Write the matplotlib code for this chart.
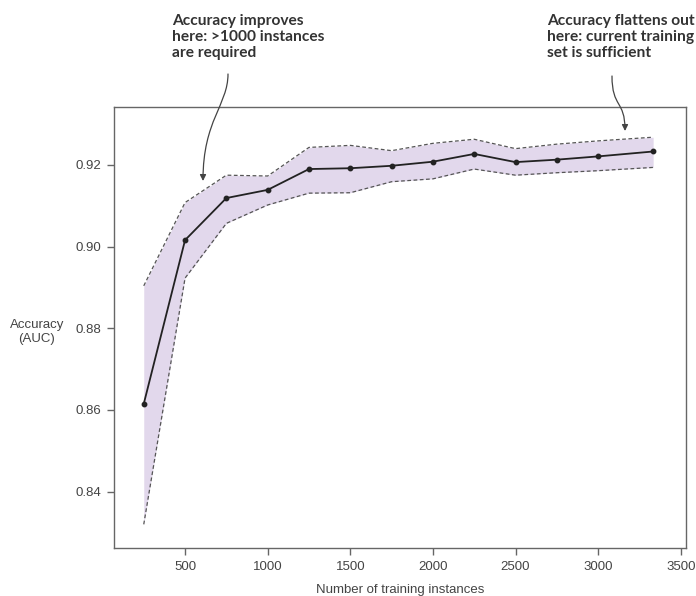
import numpy as np
import matplotlib
matplotlib.use('Agg')
import matplotlib.pyplot as plt
from matplotlib.patches import FancyArrowPatch
from matplotlib.path import Path

# Values
instances = [250, 500, 750, 1000, 1250, 1500, 1750, 2000, 2250, 2500, 2750, 3000, 3333]
auc_mean = [0.8615, 0.9016, 0.9119, 0.9139, 0.9190, 0.9192, 0.9198, 0.9208, 0.9227, 0.9207, 0.9213, 0.9221, 0.9233]
auc_upper = [0.8904, 0.9108, 0.9175, 0.9173, 0.9243, 0.9248, 0.9235, 0.9253, 0.9263, 0.9240, 0.9251, 0.9259, 0.9268]
auc_lower = [0.8320, 0.8923, 0.9057, 0.9102, 0.9131, 0.9132, 0.9159, 0.9166, 0.9190, 0.9175, 0.9181, 0.9186, 0.9194]

x_ticks = [500, 1000, 1500, 2000, 2500, 3000, 3500]
y_ticks = [0.84, 0.86, 0.88, 0.90, 0.92]

note_left = "Accuracy improves\nhere: >1000 instances\nare required"
note_right = "Accuracy flattens out\nhere: current training\nset is sufficient"

plt.rcParams['font.family'] = ['Liberation Sans', 'DejaVu Sans']

W, H = 696, 596
fig = plt.figure(figsize=(W / 100, H / 100), dpi=100)
ax = fig.add_axes([0.1638, 0.0805, 0.8214, 0.74])

# shaded band with dashed borders
ax.fill_between(instances, auc_lower, auc_upper, color='#e2d8ec', lw=0)
ax.plot(instances, auc_upper, ls=(0, (3, 2)), color='#555555', lw=0.9)
ax.plot(instances, auc_lower, ls=(0, (3, 2)), color='#555555', lw=0.9)
ax.plot(instances, auc_mean, color='#222222', lw=1.3, marker='o', ms=3.2)

ax.set_xlim(70, 3530)
ax.set_ylim(0.8262, 0.9342)
ax.set_xticks(x_ticks)
ax.set_yticks(y_ticks)
ax.set_yticklabels(['%.2f' % v for v in y_ticks])

for s in ax.spines.values():
    s.set_color('#666666')
    s.set_linewidth(1.0)
ax.tick_params(direction='out', length=5, width=1, color='#666666',
               labelsize=9.5, labelcolor='#444444', pad=4)

ax.set_xlabel('Number of training instances', fontsize=9.5, color='#444444', labelpad=8)
ax.set_ylabel('Accuracy\n(AUC)', fontsize=9.5, color='#444444', rotation=0,
              ha='center', va='center')
ax.yaxis.set_label_coords(-0.135, 0.49)

# annotations above the plot
note_font = dict(ha='left', va='top', fontsize=11.2, fontweight='bold',
                 color='#333333', linespacing=1.18, family=['Lato', 'DejaVu Sans'])
fig.text(172 / W, 1 - 14 / H, note_left, **note_font)
fig.text(547 / W, 1 - 14 / H, note_right, **note_font)


def px(x, y):
    return (x / W, 1 - y / H)


# curved pointers (cubic bezier, pixel coords)
arrow_paths = [
    [(228, 74), (228, 105), (203, 120), (203, 181)],
    [(612, 76), (612, 108), (625, 100), (625, 131)],
]
for pts in arrow_paths:
    path = Path([px(*p) for p in pts], [Path.MOVETO, Path.CURVE4, Path.CURVE4, Path.CURVE4])
    fig.patches.append(FancyArrowPatch(path=path, arrowstyle='-|>', mutation_scale=9,
                                       color='#444444', lw=0.9, transform=fig.transFigure))

fig.savefig('out.png', dpi=100)
